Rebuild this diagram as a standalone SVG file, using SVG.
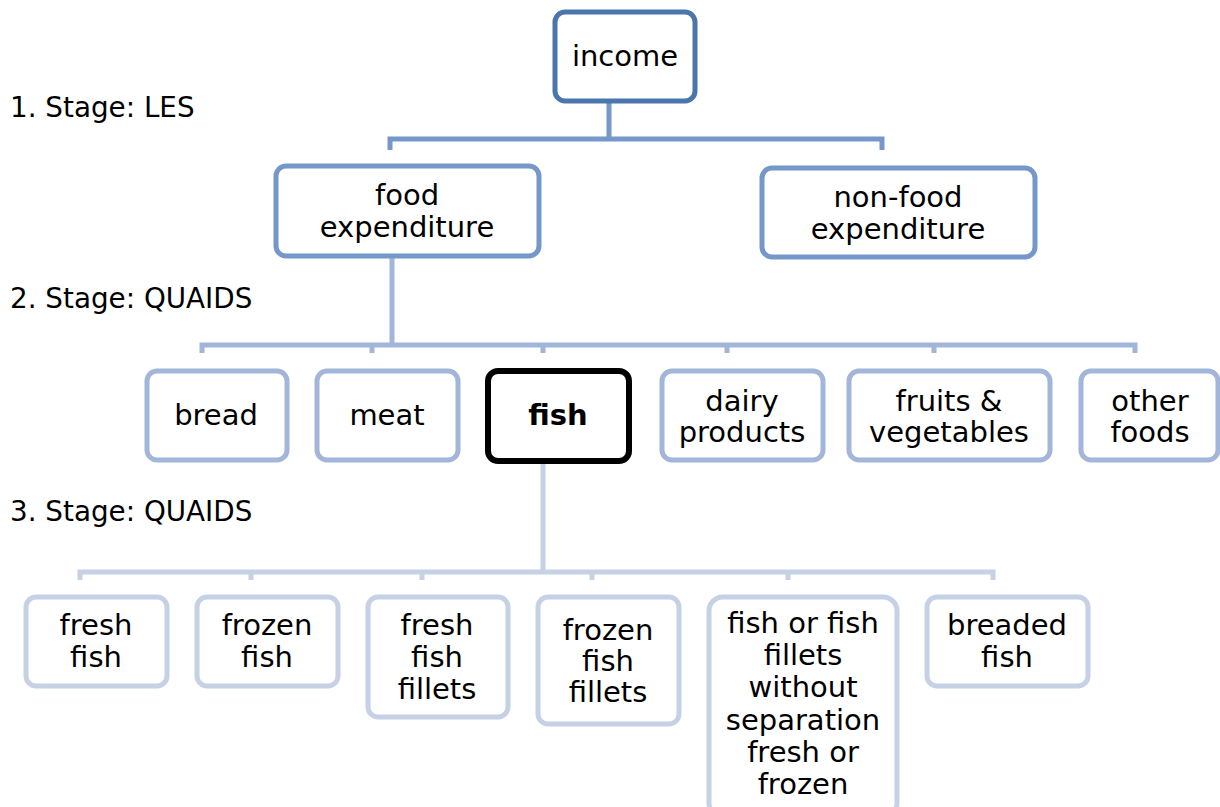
<svg xmlns="http://www.w3.org/2000/svg" width="1220" height="807" viewBox="0 0 1220 807">
<style>
text{font-family:"DejaVu Sans","Verdana",sans-serif;font-size:29px;fill:#000;text-anchor:middle}
.stage{text-anchor:start;font-size:27.8px}
.b{fill:#fff;stroke-width:5}
.l0{stroke:#4a76ad}
.l1{stroke:#7597c9}
.l2{stroke:#a2b6d9}
.l3{stroke:#c6d1e6}
.c{fill:none;stroke-width:5}
</style>
<rect width="1220" height="807" fill="#fff"/>
<g id="stages">
<text class="stage" x="10" y="117">1. Stage: LES</text>
<text class="stage" x="10" y="308">2. Stage: QUAIDS</text>
<text class="stage" x="10" y="521">3. Stage: QUAIDS</text>
</g>
<g id="connectors">
<path class="c l1" d="M609 101V139M390 150V139H882V150"/>
<path class="c l2" d="M392 257V345M202 353V345H1135V353M372 345V353M543 345V353M727 345V353M934 345V353"/>
<path class="c l3" d="M543 461V572M80 580V572H993V580M251 572V580M422 572V580M592 572V580M788 572V580"/>
</g>
<g id="income"><rect class="b l0" x="555" y="12" width="140" height="89" rx="10"/><text x="625" y="66">income</text></g>
<g id="food"><rect class="b l1" x="276" y="166" width="263" height="90" rx="10"/><text x="407" y="205">food</text><text x="407" y="237">expenditure</text></g>
<g id="nonfood"><rect class="b l1" x="762" y="168" width="273" height="89" rx="10"/><text x="898" y="207">non-food</text><text x="898" y="239">expenditure</text></g>
<g id="bread"><rect class="b l2" x="147" y="371" width="140" height="89" rx="10"/><text x="216" y="425">bread</text></g>
<g id="meat"><rect class="b l2" x="317" y="371" width="141" height="89" rx="10"/><text x="387" y="425">meat</text></g>
<g id="fish"><rect x="488" y="371" width="141" height="90" rx="10" fill="#fff" stroke="#000" stroke-width="6"/><text x="558" y="425" font-weight="bold">fish</text></g>
<g id="dairy"><rect class="b l2" x="662" y="371" width="161" height="89" rx="10"/><text x="742" y="411">dairy</text><text x="742" y="442">products</text></g>
<g id="fruits"><rect class="b l2" x="849" y="371" width="201" height="89" rx="10"/><text x="949" y="411">fruits &amp;</text><text x="949" y="442">vegetables</text></g>
<g id="other"><rect class="b l2" x="1081" y="371" width="137" height="89" rx="10"/><text x="1150" y="411">other</text><text x="1150" y="442">foods</text></g>
<g id="freshfish"><rect class="b l3" x="26" y="597" width="141" height="89" rx="10"/><text x="96" y="635">fresh</text><text x="96" y="667">fish</text></g>
<g id="frozenfish"><rect class="b l3" x="197" y="597" width="141" height="89" rx="10"/><text x="267" y="635">frozen</text><text x="267" y="667">fish</text></g>
<g id="freshfillets"><rect class="b l3" x="368" y="597" width="140" height="120" rx="10"/><text x="437" y="635">fresh</text><text x="437" y="667">fish</text><text x="437" y="699">fillets</text></g>
<g id="frozenfillets"><rect class="b l3" x="538" y="597" width="141" height="127" rx="10"/><text x="608" y="640">frozen</text><text x="608" y="671">fish</text><text x="608" y="702">fillets</text></g>
<g id="mixed"><rect class="b l3" x="709" y="597" width="188" height="220" rx="14"/><text x="803" y="633">fish or fish</text><text x="803" y="665">fillets</text><text x="803" y="697">without</text><text x="803" y="730">separation</text><text x="803" y="762">fresh or</text><text x="803" y="794">frozen</text></g>
<g id="breaded"><rect class="b l3" x="927" y="597" width="161" height="89" rx="10"/><text x="1007" y="635">breaded</text><text x="1007" y="667">fish</text></g>
</svg>
